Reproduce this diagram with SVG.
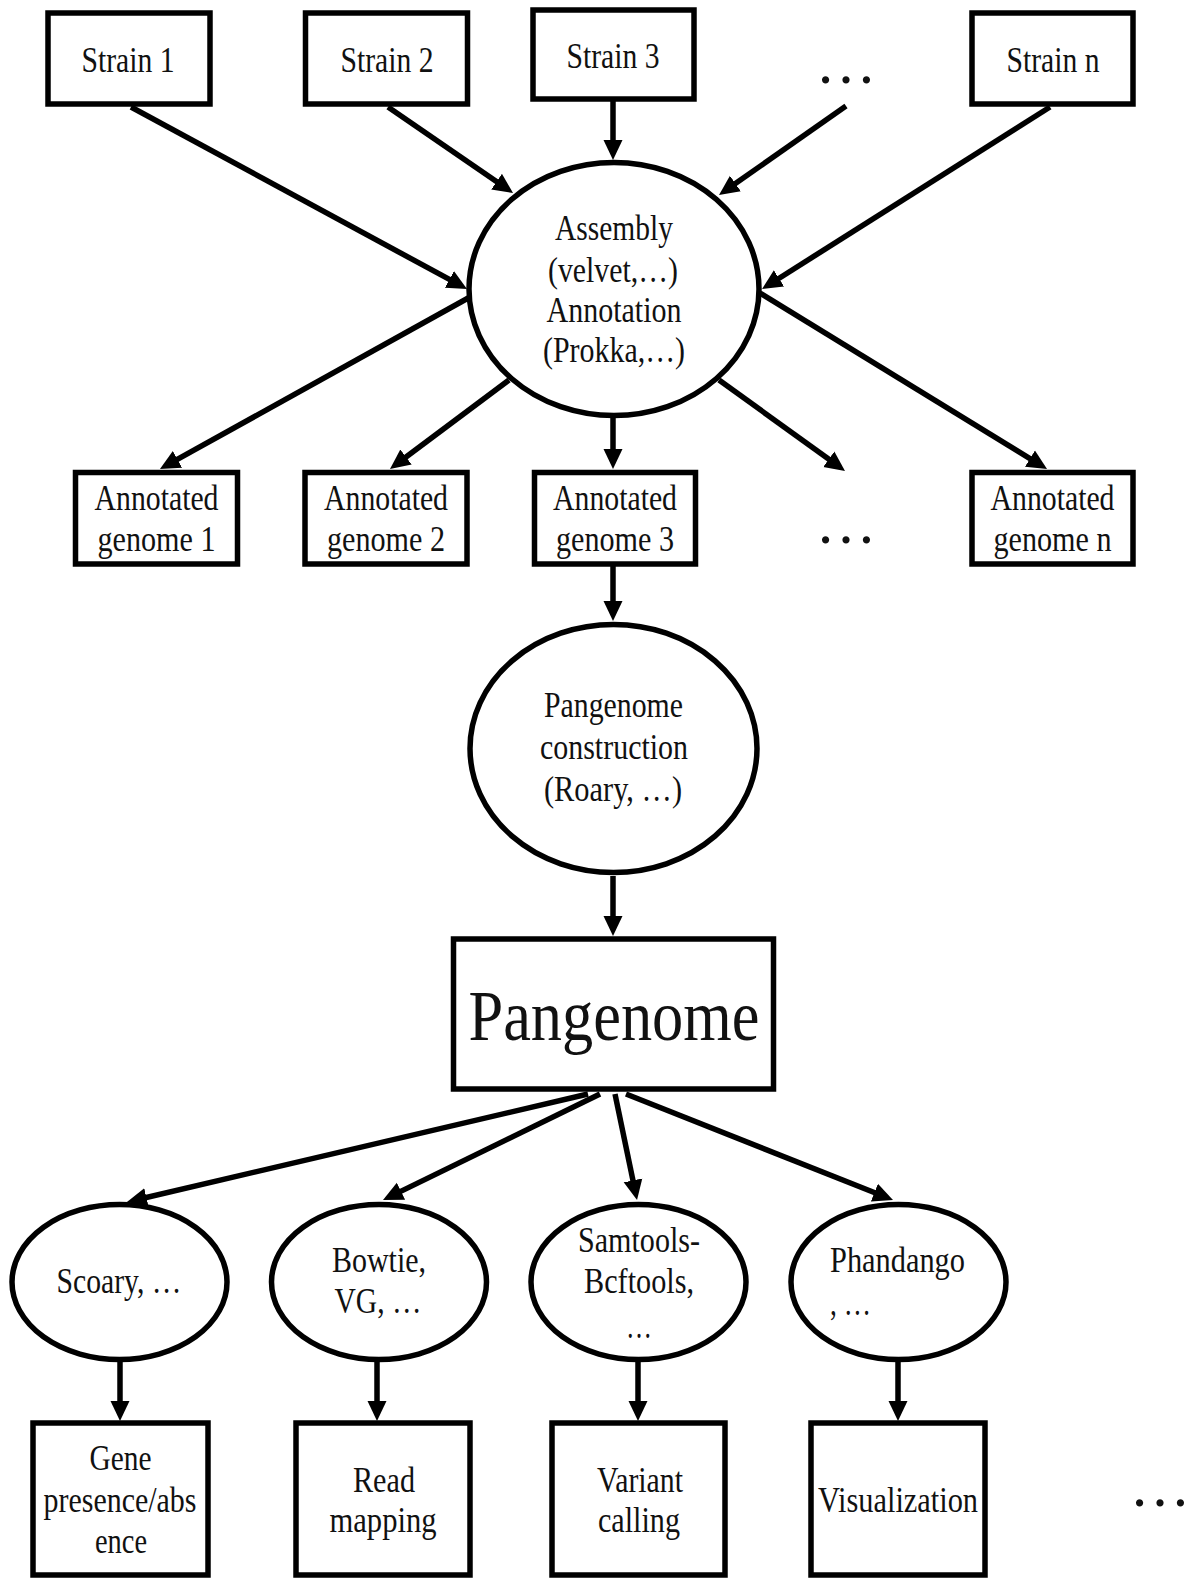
<svg xmlns="http://www.w3.org/2000/svg" width="1191" height="1581" viewBox="0 0 1191 1581">
<style>
.box{fill:#fff;stroke:#000;stroke-width:5.5}
.ell{fill:#fff;stroke:#000;stroke-width:5.5}
.t{font-family:"Liberation Serif","Times New Roman",serif;font-size:35px;fill:#111;text-anchor:middle}
.big{font-size:72px}
.dots{font-size:61px}
.c{stroke:#000;stroke-width:5.5;fill:none;marker-end:url(#ah)}
</style>
<defs>
<marker id="ah" markerUnits="userSpaceOnUse" markerWidth="20" markerHeight="20" viewBox="0 0 20 20" refX="10" refY="10" orient="auto">
<path d="M0,0.5 L20,10 L0,19.5 z" fill="#000"/>
</marker>
</defs>
<rect width="1191" height="1581" fill="#fff"/>
<g id="connectors">
<line class="c" x1="131" y1="107" x2="458.2" y2="284.2"/>
<line class="c" x1="388" y1="107" x2="504.8" y2="187.3"/>
<line class="c" x1="613" y1="101" x2="613" y2="150"/>
<line class="c" x1="846" y1="106" x2="727.2" y2="189.3"/>
<line class="c" x1="1050" y1="107" x2="770.5" y2="283.7"/>
<line class="c" x1="470" y1="297" x2="168.7" y2="464.2"/>
<line class="c" x1="509" y1="380" x2="398" y2="463"/>
<line class="c" x1="613" y1="417" x2="613" y2="459"/>
<line class="c" x1="719" y1="380" x2="836.9" y2="465.1"/>
<line class="c" x1="760" y1="293" x2="1038.5" y2="463.8"/>
<line class="c" x1="613" y1="566" x2="613" y2="611"/>
<line class="c" x1="613" y1="876" x2="613" y2="926"/>
<line class="c" x1="588" y1="1094" x2="136.7" y2="1199.7"/>
<line class="c" x1="600" y1="1094" x2="392" y2="1195.6"/>
<line class="c" x1="615" y1="1094" x2="635" y2="1190.2"/>
<line class="c" x1="626" y1="1094" x2="883.7" y2="1196.3"/>
<line class="c" x1="120" y1="1362" x2="120" y2="1411"/>
<line class="c" x1="377" y1="1362" x2="377" y2="1411"/>
<line class="c" x1="638" y1="1362" x2="638" y2="1411"/>
<line class="c" x1="898" y1="1362" x2="898" y2="1411"/>
</g>
<g id="strain1"><rect class="box" x="48" y="13" width="162" height="91"/><text class="t" x="128" y="72" textLength="93" lengthAdjust="spacingAndGlyphs">Strain 1</text></g>
<g id="strain2"><rect class="box" x="305.5" y="13" width="162" height="91"/><text class="t" x="387" y="72" textLength="93" lengthAdjust="spacingAndGlyphs">Strain 2</text></g>
<g id="strain3"><rect class="box" x="533" y="10" width="161" height="89"/><text class="t" x="613" y="68" textLength="93" lengthAdjust="spacingAndGlyphs">Strain 3</text></g>
<g id="dots-top"><text class="t dots" x="846" y="83">…</text></g>
<g id="strainn"><rect class="box" x="972" y="13" width="161" height="91"/><text class="t" x="1053" y="72" textLength="93" lengthAdjust="spacingAndGlyphs">Strain n</text></g>
<g id="assembly"><ellipse class="ell" cx="614" cy="289" rx="145" ry="126.5"/>
<text class="t" x="614" y="240" textLength="118" lengthAdjust="spacingAndGlyphs">Assembly</text>
<text class="t" x="613" y="282" textLength="130" lengthAdjust="spacingAndGlyphs">(velvet,…)</text>
<text class="t" x="614" y="322" textLength="135" lengthAdjust="spacingAndGlyphs">Annotation</text>
<text class="t" x="614" y="362" textLength="142" lengthAdjust="spacingAndGlyphs">(Prokka,…)</text></g>
<g id="ag1"><rect class="box" x="75.5" y="472.5" width="162" height="91.5"/><text class="t" x="156.5" y="510" textLength="124" lengthAdjust="spacingAndGlyphs">Annotated</text><text class="t" x="156.5" y="551" textLength="118" lengthAdjust="spacingAndGlyphs">genome 1</text></g>
<g id="ag2"><rect class="box" x="305" y="472.5" width="162" height="91.5"/><text class="t" x="386" y="510" textLength="124" lengthAdjust="spacingAndGlyphs">Annotated</text><text class="t" x="386" y="551" textLength="118" lengthAdjust="spacingAndGlyphs">genome 2</text></g>
<g id="ag3"><rect class="box" x="534.5" y="472.5" width="161" height="91.5"/><text class="t" x="615" y="510" textLength="124" lengthAdjust="spacingAndGlyphs">Annotated</text><text class="t" x="615" y="551" textLength="118" lengthAdjust="spacingAndGlyphs">genome 3</text></g>
<g id="dots-mid"><text class="t dots" x="846" y="543">…</text></g>
<g id="agn"><rect class="box" x="972" y="472.5" width="161" height="91.5"/><text class="t" x="1052.5" y="510" textLength="124" lengthAdjust="spacingAndGlyphs">Annotated</text><text class="t" x="1052.5" y="551" textLength="118" lengthAdjust="spacingAndGlyphs">genome n</text></g>
<g id="pangenome-construction"><ellipse class="ell" cx="613.5" cy="748.5" rx="143.5" ry="124"/>
<text class="t" x="613.5" y="717" textLength="139" lengthAdjust="spacingAndGlyphs">Pangenome</text>
<text class="t" x="614" y="759" textLength="148" lengthAdjust="spacingAndGlyphs">construction</text>
<text class="t" x="613" y="801" textLength="138" lengthAdjust="spacingAndGlyphs">(Roary, …)</text></g>
<g id="pangenome"><rect class="box" x="453.5" y="939" width="320" height="150"/><text class="t big" x="614" y="1040" textLength="291" lengthAdjust="spacingAndGlyphs">Pangenome</text></g>
<g id="scoary"><ellipse class="ell" cx="119.5" cy="1282" rx="107.5" ry="77.5"/><text class="t" x="119" y="1293" textLength="125" lengthAdjust="spacingAndGlyphs">Scoary, …</text></g>
<g id="bowtie"><ellipse class="ell" cx="379" cy="1282" rx="107.5" ry="77.5"/><text class="t" x="379" y="1272" textLength="94" lengthAdjust="spacingAndGlyphs">Bowtie,</text><text class="t" x="378" y="1313" textLength="87" lengthAdjust="spacingAndGlyphs">VG, …</text></g>
<g id="samtools"><ellipse class="ell" cx="638.5" cy="1282" rx="107.5" ry="77.5"/><text class="t" x="639" y="1252" textLength="122" lengthAdjust="spacingAndGlyphs">Samtools-</text><text class="t" x="639" y="1293" textLength="110" lengthAdjust="spacingAndGlyphs">Bcftools,</text><text class="t" x="639" y="1338" textLength="26" lengthAdjust="spacingAndGlyphs">…</text></g>
<g id="phandango"><ellipse class="ell" cx="898.5" cy="1282" rx="107.5" ry="77.5"/><text class="t" x="897.5" y="1272" textLength="135" lengthAdjust="spacingAndGlyphs">Phandango</text><text class="t" x="830" y="1315" style="text-anchor:start" textLength="41" lengthAdjust="spacingAndGlyphs">, …</text></g>
<g id="gene"><rect class="box" x="33" y="1423" width="175" height="152"/><text class="t" x="120.5" y="1470" textLength="62" lengthAdjust="spacingAndGlyphs">Gene</text><text class="t" x="120" y="1512" textLength="153" lengthAdjust="spacingAndGlyphs">presence/abs</text><text class="t" x="121" y="1553" textLength="52" lengthAdjust="spacingAndGlyphs">ence</text></g>
<g id="read"><rect class="box" x="296" y="1423" width="174" height="152"/><text class="t" x="384" y="1492" textLength="62" lengthAdjust="spacingAndGlyphs">Read</text><text class="t" x="383" y="1532" textLength="107" lengthAdjust="spacingAndGlyphs">mapping</text></g>
<g id="variant"><rect class="box" x="552" y="1423" width="173" height="152"/><text class="t" x="640" y="1492" textLength="86" lengthAdjust="spacingAndGlyphs">Variant</text><text class="t" x="639" y="1532" textLength="82" lengthAdjust="spacingAndGlyphs">calling</text></g>
<g id="visualization"><rect class="box" x="811" y="1423" width="174" height="152"/><text class="t" x="898" y="1512" textLength="160" lengthAdjust="spacingAndGlyphs">Visualization</text></g>
<g id="dots-bottom"><text class="t dots" x="1160" y="1506">…</text></g>
</svg>
